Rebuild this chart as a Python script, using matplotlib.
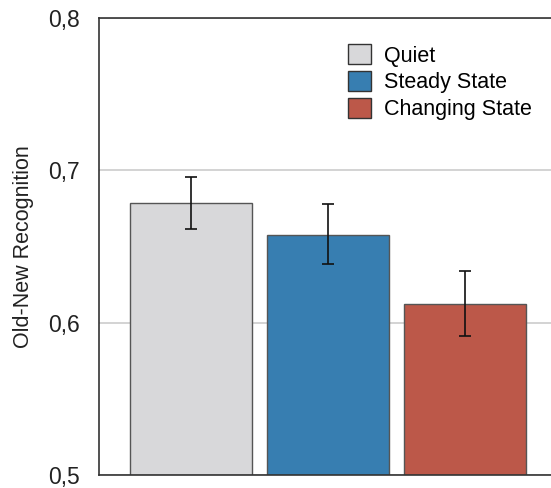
import numpy as np
import matplotlib.pyplot as plt
from matplotlib.patches import Patch
from matplotlib.ticker import FuncFormatter

conditions = ['Quiet', 'Steady State', 'Changing State']
means = [0.6785, 0.6575, 0.6122]
err_low = [0.6615, 0.6385, 0.5912]
err_high = [0.6956, 0.6779, 0.6339]
colors = ['#d8d8da', '#377eb1', '#bc5849']
yticks = [0.5, 0.6, 0.7, 0.8]

plt.rcParams['font.family'] = ['Liberation Sans', 'DejaVu Sans']

fig = plt.figure(figsize=(5.51, 4.88), dpi=100)
ax = fig.add_axes([99/551, 1 - 475/488, 452/551, (475 - 18)/488])

x = np.arange(len(conditions))
means = np.array(means)
yerr = np.array([means - np.array(err_low), np.array(err_high) - means])

ax.bar(x, means - 0.5, bottom=0.5, width=0.89, color=colors,
       edgecolor='#555555', linewidth=1.0, zorder=2)
ax.errorbar(x, means, yerr=yerr, fmt='none', ecolor='#111111',
            elinewidth=1.2, capsize=4, capthick=1.2, zorder=3)

ax.set_xlim(-0.672, 2.628)
ax.set_ylim(0.5, 0.8)
ax.set_yticks(yticks)
ax.yaxis.set_major_formatter(FuncFormatter(lambda v, p: f'{v:.1f}'.replace('.', ',')))
ax.set_xticks([])
ax.tick_params(axis='y', length=0, pad=14, labelsize=16.5, labelcolor='#222222')
ax.grid(axis='y', color='#cccccc', linewidth=1.2, zorder=0)
ax.set_axisbelow(True)

ax.spines['right'].set_visible(False)
for s in ['left', 'top', 'bottom']:
    ax.spines[s].set_color('#333333')
    ax.spines[s].set_linewidth(1.2)

ax.set_ylabel('Old-New Recognition', fontsize=15.5, color='#222222', labelpad=10)

handles = [Patch(facecolor=c, edgecolor='#333333', linewidth=1.0) for c in colors]
ax.legend(handles, conditions, loc='upper right', bbox_to_anchor=(0.99, 0.975),
          frameon=False, fontsize=15.5, handlelength=1.05, handleheight=1.05,
          handletextpad=0.6, labelspacing=0.2, borderaxespad=0.3)

fig.savefig('out.png', dpi=100)
